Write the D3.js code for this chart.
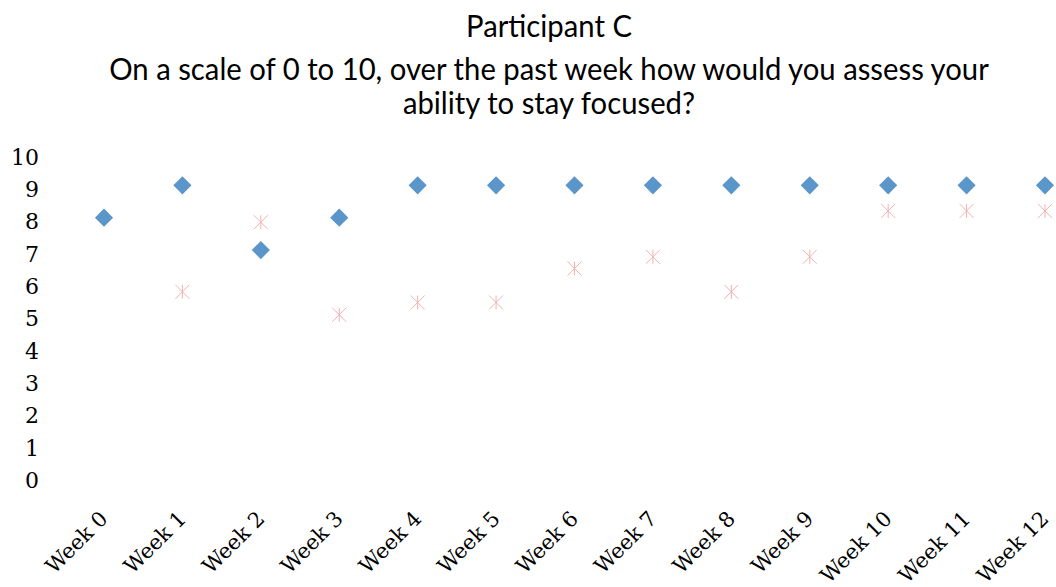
<!DOCTYPE html>
<html>
<head>
<meta charset="utf-8">
<script src="https://cdn.jsdelivr.net/npm/d3@7"></script>
<style>
  html, body { margin: 0; padding: 0; background: #fff; }
  svg { display: block; }
</style>
</head>
<body>
<svg id="chart" width="1056" height="587"></svg>
<script>
// Weekly self-ratings (0-10) for staying focused
const weeks = ["Week 0", "Week 1", "Week 2", "Week 3", "Week 4", "Week 5", "Week 6",
               "Week 7", "Week 8", "Week 9", "Week 10", "Week 11", "Week 12"];
const participantScores = [8, 9, 7, 8, 9, 9, 9, 9, 9, 9, 9, 9, 9];
// Comparison series starts at Week 1
const comparisonScores = [null, 5.71, 7.86, 5.0, 5.38, 5.38, 6.43, 6.79, 5.71, 6.79, 8.21, 8.21, 8.21];
const yTicks = [0, 1, 2, 3, 4, 5, 6, 7, 8, 9, 10];
const titleLines = [
  "Participant C",
  "On a scale of 0 to 10, over the past week how would you assess your",
  "ability to stay focused?"
];

const svg = d3.select("#chart");

const x = d3.scalePoint().domain(weeks).range([104, 1045]);
const y = d3.scaleLinear().domain([0, 10]).range([476.5, 153]);

const serif = "'DejaVu Serif', serif";

// Title: tall, narrow sans look, compressed horizontally so the long line spans its width
const title = svg.append("g").attr("class", "title");
const titleY = [37, 80, 114];
const lines = title.selectAll("text")
  .data(titleLines)
  .join("text")
  .attr("x", 0)
  .attr("y", (d, i) => titleY[i])
  .attr("text-anchor", "middle")
  .style("font-family", "Lato, 'Open Sans', sans-serif")
  .style("font-size", "30px")
  .style("fill", "#000")
  .text(d => d);
const wLong = lines.filter((d, i) => i === 1).node().getComputedTextLength();
const sx = 880 / wLong;
title.attr("transform", `translate(549,0) scale(${sx},1)`);

// Y axis
const yAxis = d3.axisLeft(y).tickValues(yTicks).tickSize(0).tickPadding(0).tickFormat(d3.format("d"));
const gy = svg.append("g").attr("transform", "translate(39,0)").call(yAxis);
gy.select(".domain").remove();
gy.selectAll("text")
  .attr("dy", "0.5em")
  .style("font-family", serif)
  .style("font-size", "22px")
  .style("fill", "#000");

// X axis labels, rotated 45 degrees
const xAxis = d3.axisBottom(x).tickSize(0).tickPadding(0);
const gx = svg.append("g").call(xAxis);
gx.select(".domain").remove();
gx.selectAll(".tick").attr("transform", d => `translate(${x(d) + 5},520)`);
gx.selectAll("text")
  .attr("x", 0).attr("y", 0).attr("dy", 0)
  .attr("text-anchor", "end")
  .attr("transform", "rotate(-45)")
  .style("font-family", serif)
  .style("font-size", "21px")
  .style("fill", "#000");

// Comparison series: star markers
const starR = 7;
function starPath() {
  const p = d3.path();
  p.moveTo(0, -starR); p.lineTo(0, starR);
  p.moveTo(-starR, -starR); p.lineTo(starR, starR);
  p.moveTo(-starR, starR); p.lineTo(starR, -starR);
  return p.toString();
}
const compData = weeks.map((w, i) => ({ w, v: comparisonScores[i] })).filter(d => d.v !== null);
svg.append("g").attr("class", "comparison")
  .selectAll("path")
  .data(compData)
  .join("path")
  .attr("transform", d => `translate(${x(d.w)},${y(d.v)})`)
  .attr("d", starPath())
  .attr("fill", "none")
  .attr("stroke", "#f0b3b1")
  .attr("stroke-width", 1);

// Participant series: diamond markers
const diamond = d3.symbol().type(d3.symbolSquare).size(165)();
const partData = weeks.map((w, i) => ({ w, v: participantScores[i] }));
svg.append("g").attr("class", "participant")
  .selectAll("path")
  .data(partData)
  .join("path")
  .attr("transform", d => `translate(${x(d.w)},${y(d.v)}) rotate(45)`)
  .attr("d", diamond)
  .attr("fill", "#5b96cb");
</script>
</body>
</html>
